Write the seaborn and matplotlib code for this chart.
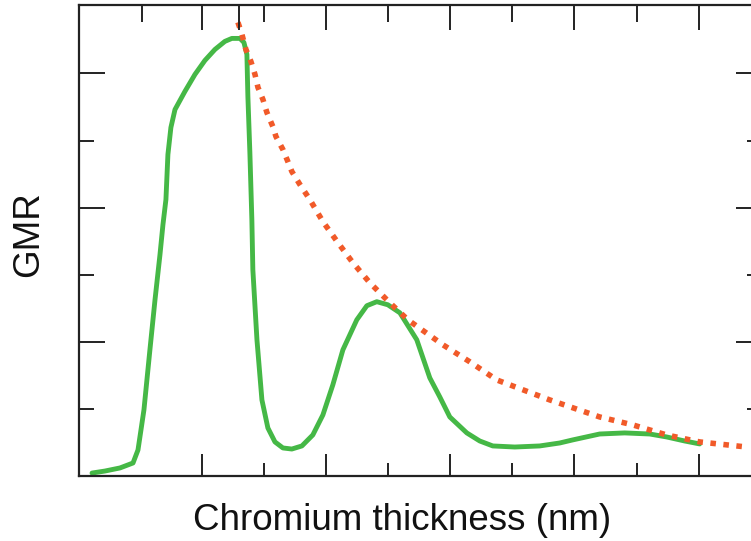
import numpy as np
import pandas as pd
import matplotlib
matplotlib.use("Agg")
import matplotlib.pyplot as plt
import seaborn as sns

# values (x in nm-ish units, y in GMR units)
gmr_x = [0.115, 0.219, 0.340, 0.445, 0.485, 0.509, 0.533, 0.581, 0.622, 0.662, 0.686, 0.710,
         0.726, 0.750, 0.783, 0.863, 0.944, 1.024, 1.105, 1.185, 1.241, 1.306, 1.338, 1.362,
         1.370, 1.386, 1.402, 1.410, 1.443, 1.483, 1.531, 1.588, 1.652, 1.724, 1.805, 1.893,
         1.974, 2.054, 2.135, 2.247, 2.328, 2.408, 2.497, 2.594, 2.730, 2.835, 2.915, 2.996,
         3.133, 3.237, 3.342, 3.519, 3.720, 3.881, 3.986, 4.203, 4.404, 4.606, 4.742, 4.887,
         5.008]
gmr_y = [0.022, 0.037, 0.060, 0.097, 0.194, 0.343, 0.493, 0.940, 1.313, 1.649, 1.873, 2.060,
         2.396, 2.597, 2.731, 2.866, 2.993, 3.097, 3.179, 3.239, 3.261, 3.261, 3.231, 3.142,
         2.828, 2.410, 1.910, 1.537, 1.015, 0.567, 0.358, 0.254, 0.209, 0.201, 0.224, 0.306,
         0.455, 0.679, 0.940, 1.164, 1.269, 1.299, 1.276, 1.216, 1.015, 0.731, 0.590, 0.440,
         0.321, 0.261, 0.224, 0.216, 0.224, 0.246, 0.269, 0.313, 0.321, 0.313, 0.291, 0.261,
         0.239]

env_x = [1.290, 1.322, 1.354, 1.394, 1.427, 1.451, 1.491, 1.523, 1.571, 1.596, 1.652, 1.692,
         1.724, 1.789, 1.869, 1.974, 2.095, 2.215, 2.352, 2.513, 2.658, 2.851, 2.940, 3.157,
         3.374, 3.801, 4.203, 4.469, 4.742, 5.008, 5.386]
env_y = [3.381, 3.291, 3.179, 3.090, 2.993, 2.896, 2.806, 2.709, 2.604, 2.530, 2.433, 2.343,
         2.269, 2.172, 2.060, 1.896, 1.739, 1.590, 1.440, 1.291, 1.164, 1.037, 0.978, 0.851,
         0.716, 0.567, 0.440, 0.381, 0.306, 0.254, 0.216]

sns.set_theme(style="ticks")
plt.rcParams['font.family'] = ['Liberation Sans', 'DejaVu Sans']

fig = plt.figure(figsize=(7.51, 5.41), dpi=100)
ax = fig.add_axes([79 / 751, 65 / 541, 683 / 751, 471 / 541])

df_g = pd.DataFrame({"x": gmr_x, "y": gmr_y})
df_e = pd.DataFrame({"x": env_x, "y": env_y})
sns.lineplot(data=df_g, x="x", y="y", ax=ax, color="#45B846", linewidth=3.5,
             sort=False, estimator=None)
sns.lineplot(data=df_e, x="x", y="y", ax=ax, color="#F15A29", linewidth=4.0,
             sort=False, estimator=None, linestyle=(0, (1, 1.35)))

ax.set_xlim(0.01, 5.51)
ax.set_ylim(0, 3.51)
ax.set_xlabel("")
ax.set_ylabel("")

ax.set_xticks([1, 2, 3, 4, 5])
ax.set_xticks([1.5, 2.5, 3.5, 4.5], minor=True)
ax.set_yticks([1, 2, 3])
ax.set_yticks([0.5, 1.5, 2.5], minor=True)
ax.tick_params(which="both", direction="in", labelbottom=False, labelleft=False,
               left=True, right=True, bottom=True, top=False, width=1.4, color="#222222")
ax.tick_params(which="major", axis="x", length=16)
ax.tick_params(which="minor", axis="x", length=9.5)
ax.tick_params(which="major", axis="y", length=19)
ax.tick_params(which="minor", axis="y", length=11)
for s in ax.spines.values():
    s.set_visible(True)
    s.set_linewidth(1.6)
    s.set_color("#222222")

# top axis has its own tick set
top = ax.twiny()
top.set_xlim(ax.get_xlim())
top.set_xticks([1, 1.3, 2, 3, 4, 5])
top.set_xticks([0.52, 1.5, 2.5, 3.5, 4.5], minor=True)
top.tick_params(which="both", direction="in", labeltop=False, width=1.4, color="#222222")
top.tick_params(which="major", length=18)
top.tick_params(which="minor", length=12)
for s in top.spines.values():
    s.set_visible(False)

fig.text(402 / 751, 1 - 521 / 541, "Chromium thickness (nm)", ha="center", va="center",
         fontsize=26.5, color="#111111")
fig.text(29 / 751, 1 - 234 / 541, "GMR", ha="center", va="center", rotation=90,
         fontsize=26.5, color="#111111")

fig.savefig("out.png", dpi=100)
